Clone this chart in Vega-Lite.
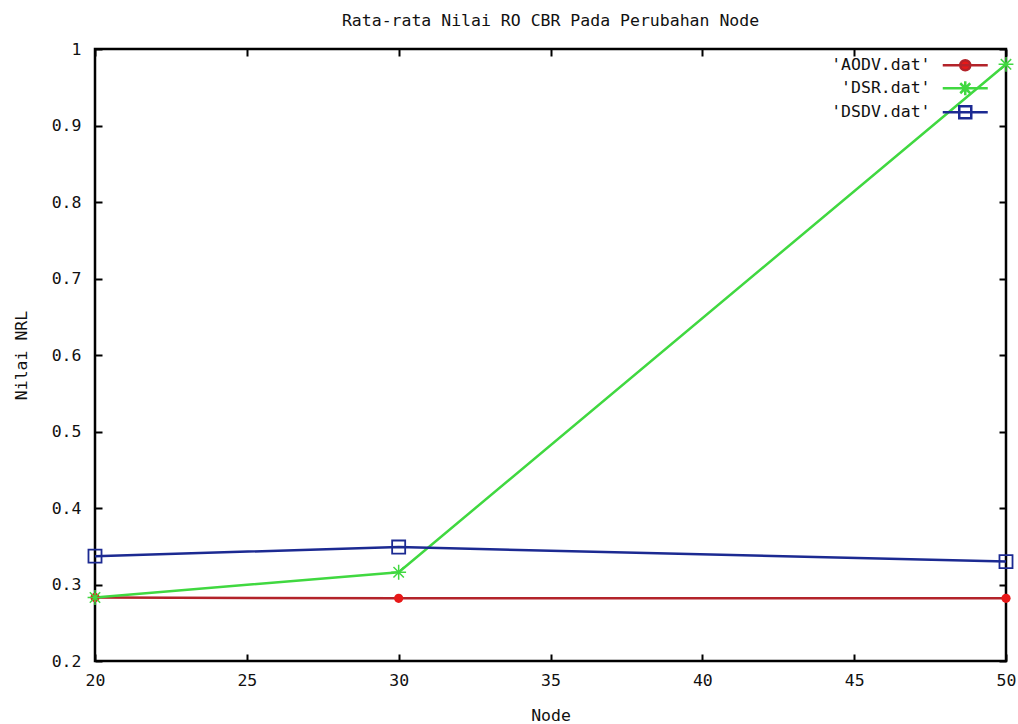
{
  "$schema": "https://vega.github.io/schema/vega-lite/v6.json",
  "width": 911,
  "height": 612,
  "autosize": "none",
  "padding": {"left": 95, "top": 49, "right": 12, "bottom": 63},
  "background": "white",
  "config": {
    "view": {"stroke": "black", "strokeWidth": 2.5},
    "font": "DejaVu Sans Mono",
    "title": {"font": "DejaVu Sans Mono", "fontSize": 16.5, "fontWeight": "normal", "color": "#111", "offset": 12, "anchor": "middle"},
    "axis": {
      "labelFont": "DejaVu Sans Mono", "labelFontSize": 16.5, "labelColor": "#111", "labelFlush": false,
      "titleFont": "DejaVu Sans Mono", "titleFontSize": 16.5, "titleFontWeight": "normal", "titleColor": "#111",
      "grid": false, "domain": false, "tickColor": "black", "tickWidth": 2, "tickSize": -7
    },
    "legend": {"labelFont": "DejaVu Sans Mono", "labelFontSize": 16.5, "labelColor": "#111"}
  },
  "title": "Rata-rata Nilai RO CBR Pada Perubahan Node",
  "data": {"values": [
    {"node": 20, "nrl": 0.283, "series": "'AODV.dat'"},
    {"node": 30, "nrl": 0.282, "series": "'AODV.dat'"},
    {"node": 50, "nrl": 0.282, "series": "'AODV.dat'"},
    {"node": 20, "nrl": 0.283, "series": "'DSR.dat'"},
    {"node": 30, "nrl": 0.316, "series": "'DSR.dat'"},
    {"node": 50, "nrl": 0.980, "series": "'DSR.dat'"},
    {"node": 20, "nrl": 0.337, "series": "'DSDV.dat'"},
    {"node": 30, "nrl": 0.349, "series": "'DSDV.dat'"},
    {"node": 50, "nrl": 0.330, "series": "'DSDV.dat'"}
  ]},
  "layer": [
    {
      "mark": {"type": "line", "strokeWidth": 2.5},
      "encoding": {
        "x": {"field": "node", "type": "quantitative",
              "scale": {"domain": [20, 50], "nice": false, "zero": false},
              "axis": {"orient": "bottom", "values": [20, 25, 30, 35, 40, 45, 50], "format": "d", "title": "Node", "labelPadding": 18, "titlePadding": 19}},
        "y": {"field": "nrl", "type": "quantitative",
              "scale": {"domain": [0.2, 1], "nice": false, "zero": false},
              "axis": {"orient": "left", "values": [0.2, 0.3, 0.4, 0.5, 0.6, 0.7, 0.8, 0.9, 1], "format": ".1~f", "title": "Nilai NRL", "labelPadding": 21, "titlePadding": 22}},
        "color": {"field": "series", "type": "nominal",
                  "scale": {"domain": ["'AODV.dat'", "'DSR.dat'", "'DSDV.dat'"], "range": ["#b3232a", "#40d840", "#1c2a92"]},
                  "legend": {
                    "orient": "none", "legendX": 862, "legendY": 8, "title": null,
                    "labelAlign": "right", "labelOffset": -43, "rowPadding": 0,
                    "symbolSize": 100, "symbolStrokeWidth": 2.5,
                    "encode": {"symbols": {"update": {
                      "shape": {"signal": "indexof(datum.value,'AODV')>=0 ? 'M-4.5,0L4.5,0M-1,0A1,1,0,1,1,1,0A1,1,0,1,1,-1,0Z' : (indexof(datum.value,'DSR')>=0 ? 'M-4.5,0L4.5,0M0,-1.4L0,1.4M-1,-1L1,1M-1,1L1,-1' : 'M-4.5,0L4.5,0M-1.2,-1.2L1.2,-1.2L1.2,1.2L-1.2,1.2Z')"},
                      "fill": {"signal": "indexof(datum.value,'AODV')>=0 ? '#e81818' : 'transparent'"},
                      "strokeWidth": {"value": 2.5}
                    }}}
                  }}
      }
    },
    {
      "transform": [{"filter": "indexof(datum.series,'AODV')>=0"}],
      "mark": {"type": "point", "shape": "circle", "filled": true, "size": 85, "color": "#e81818", "opacity": 1},
      "encoding": {
        "x": {"field": "node", "type": "quantitative", "scale": {"domain": [20, 50], "nice": false, "zero": false},
              "axis": {"orient": "top", "values": [20, 25, 30, 35, 40, 45, 50], "labels": false, "title": null}},
        "y": {"field": "nrl", "type": "quantitative", "scale": {"domain": [0.2, 1], "nice": false, "zero": false},
              "axis": {"orient": "right", "values": [0.2, 0.3, 0.4, 0.5, 0.6, 0.7, 0.8, 0.9, 1], "labels": false, "title": null}}
      }
    },
    {
      "transform": [{"filter": "indexof(datum.series,'DSR')>=0"}],
      "mark": {"type": "point", "shape": "M-1,0L1,0M0,-1L0,1M-0.7,-0.7L0.7,0.7M-0.7,0.7L0.7,-0.7", "filled": false, "size": 220, "color": "#40d840", "strokeWidth": 1.5, "opacity": 1},
      "encoding": {
        "x": {"field": "node", "type": "quantitative", "scale": {"domain": [20, 50], "nice": false, "zero": false}, "axis": null},
        "y": {"field": "nrl", "type": "quantitative", "scale": {"domain": [0.2, 1], "nice": false, "zero": false}, "axis": null}
      }
    },
    {
      "transform": [{"filter": "indexof(datum.series,'DSDV')>=0"}],
      "mark": {"type": "point", "shape": "square", "filled": false, "size": 170, "color": "#1c2a92", "strokeWidth": 1.8, "opacity": 1},
      "encoding": {
        "x": {"field": "node", "type": "quantitative", "scale": {"domain": [20, 50], "nice": false, "zero": false}, "axis": null},
        "y": {"field": "nrl", "type": "quantitative", "scale": {"domain": [0.2, 1], "nice": false, "zero": false}, "axis": null}
      }
    }
  ],
  "resolve": {"axis": {"x": "independent", "y": "independent"}}
}
